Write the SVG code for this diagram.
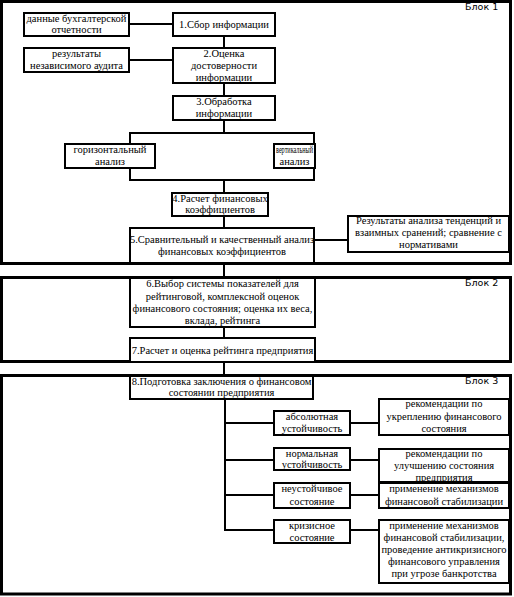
<svg xmlns="http://www.w3.org/2000/svg" width="514" height="597" viewBox="0 0 514 597">
<style>
.blk{fill:none;stroke:#000;stroke-width:3}
.box{fill:#fff;stroke:#000;stroke-width:2}
.ln{fill:none;stroke:#000;stroke-width:2}
.t{font-family:"Liberation Serif","Times New Roman",serif;font-size:10.5px;text-anchor:middle;fill:#000}
.lbl{font-family:"DejaVu Sans",sans-serif;font-size:9.5px;fill:#000}
</style>
<rect width="514" height="597" fill="#fff"/>
<g id="blocks">
<rect class="blk" x="1.5" y="1.5" width="509" height="262"/>
<rect class="blk" x="1.5" y="277.5" width="509" height="84"/>
<rect class="blk" x="1.5" y="375.5" width="509" height="218.5"/>
<text class="lbl" x="465" y="10">Блок 1</text>
<text class="lbl" x="465" y="286">Блок 2</text>
<text class="lbl" x="465" y="384">Блок 3</text>
</g>
<g id="connectors">
<line class="ln" x1="129" y1="24" x2="173" y2="24"/>
<line class="ln" x1="129" y1="60" x2="173" y2="60"/>
<line class="ln" x1="224" y1="36" x2="224" y2="48"/>
<line class="ln" x1="224" y1="83" x2="224" y2="96"/>
<line class="ln" x1="224" y1="120" x2="224" y2="133"/>
<rect class="ln" x="130" y="133" width="184" height="47"/>
<line class="ln" x1="224" y1="180" x2="224" y2="193"/>
<line class="ln" x1="224" y1="216" x2="224" y2="228"/>
<line class="ln" x1="314" y1="240" x2="348" y2="240"/>
<line class="ln" x1="224" y1="263" x2="224" y2="278"/>
<line class="ln" x1="224" y1="327" x2="224" y2="338"/>
<line class="ln" x1="224" y1="361" x2="224" y2="376"/>
<line class="ln" x1="225" y1="399" x2="225" y2="531"/>
<line class="ln" x1="225" y1="423" x2="274" y2="423"/>
<line class="ln" x1="225" y1="460" x2="274" y2="460"/>
<line class="ln" x1="225" y1="495" x2="274" y2="495"/>
<line class="ln" x1="224" y1="530" x2="274" y2="530"/>
<line class="ln" x1="350" y1="423" x2="379" y2="423"/>
<line class="ln" x1="350" y1="460" x2="379" y2="460"/>
<line class="ln" x1="350" y1="495" x2="379" y2="495"/>
<line class="ln" x1="350" y1="530" x2="379" y2="530"/>
</g>
<g id="n-data">
<rect class="box" x="24" y="13" width="105" height="23"/>
<text class="t" x="76.5" y="21.5">данные бухгалтерской</text>
<text class="t" x="76.5" y="33">отчетности</text>
</g>
<g id="n-audit">
<rect class="box" x="24" y="48" width="105" height="24"/>
<text class="t" x="76.5" y="57">результаты</text>
<text class="t" x="76.5" y="69">независимого аудита</text>
</g>
<g id="n1">
<rect class="box" x="173" y="13" width="102" height="23"/>
<text class="t" x="224" y="28">1.Сбор информации</text>
</g>
<g id="n2">
<rect class="box" x="173" y="48" width="102" height="35"/>
<text class="t" x="224" y="57">2.Оценка</text>
<text class="t" x="224" y="69">достоверности</text>
<text class="t" x="224" y="81">информации</text>
</g>
<g id="n3">
<rect class="box" x="173" y="96" width="102" height="24"/>
<text class="t" x="224" y="105">3.Обработка</text>
<text class="t" x="224" y="117">информации</text>
</g>
<g id="n-hor">
<rect class="box" x="65" y="144" width="90" height="24"/>
<text class="t" x="110" y="153">горизонтальный</text>
<text class="t" x="110" y="165">анализ</text>
</g>
<g id="n-ver">
<rect class="box" x="274" y="144" width="41" height="24"/>
<text class="t" x="294.5" y="153" textLength="37" lengthAdjust="spacingAndGlyphs">вертикальный</text>
<text class="t" x="294.5" y="165">анализ</text>
</g>
<g id="n4">
<rect class="box" x="172" y="193" width="96" height="23"/>
<text class="t" x="220" y="201.5">4.Расчет финансовых</text>
<text class="t" x="220" y="213">коэффициентов</text>
</g>
<g id="n5">
<rect class="box" x="130" y="228" width="184" height="35"/>
<text class="t" x="222" y="243">5.Сравнительный и качественный анализ</text>
<text class="t" x="222" y="255">финансовых коэффициентов</text>
</g>
<g id="n-res">
<rect class="box" x="348" y="216" width="161" height="36"/>
<text class="t" x="428.5" y="224">Результаты анализа тенденций и</text>
<text class="t" x="428.5" y="236">взаимных сранений; сравнение с</text>
<text class="t" x="428.5" y="248">нормативами</text>
</g>
<g id="n6">
<rect class="box" x="130" y="278" width="185" height="49"/>
<text class="t" x="222.5" y="287">6.Выбор системы показателей для</text>
<text class="t" x="222.5" y="299.5">рейтинговой, комплексной оценок</text>
<text class="t" x="222.5" y="312">финансового состояния; оценка их веса,</text>
<text class="t" x="222.5" y="324">вклада, рейтинга</text>
</g>
<g id="n7">
<rect class="box" x="130" y="338" width="185" height="24"/>
<text class="t" x="222.5" y="353.5">7.Расчет и оценка рейтинга предприятия</text>
</g>
<g id="n8">
<rect class="box" x="130" y="376" width="183" height="23"/>
<text class="t" x="221.5" y="384.5">8.Подготовка заключения о финансовом</text>
<text class="t" x="221.5" y="396">состоянии предприятия</text>
</g>
<g id="n-abs">
<rect class="box" x="274" y="411" width="76" height="24"/>
<text class="t" x="312" y="420">абсолютная</text>
<text class="t" x="312" y="432">устойчивость</text>
</g>
<g id="n-abs-r">
<rect class="box" x="379" y="399" width="130" height="36"/>
<text class="t" x="444" y="407">рекомендации по</text>
<text class="t" x="444" y="419.5">укреплению финансового</text>
<text class="t" x="444" y="431.5">состояния</text>
</g>
<g id="n-norm">
<rect class="box" x="274" y="448" width="76" height="22"/>
<text class="t" x="312" y="456.5">нормальная</text>
<text class="t" x="312" y="468">устойчивость</text>
</g>
<g id="n-norm-r">
<rect class="box" x="379" y="449" width="130" height="33"/>
<text class="t" x="444" y="457">рекомендации по</text>
<text class="t" x="444" y="469">улучшению состояния</text>
<text class="t" x="444" y="481">предприятия</text>
</g>
<g id="n-unst">
<rect class="box" x="274" y="483" width="76" height="25"/>
<text class="t" x="312" y="491.5">неустойчивое</text>
<text class="t" x="312" y="504.5">состояние</text>
</g>
<g id="n-unst-r">
<rect class="box" x="379" y="483" width="130" height="25"/>
<text class="t" x="444" y="491.5">применение механизмов</text>
<text class="t" x="444" y="504.5">финансовой стабилизации</text>
</g>
<g id="n-cris">
<rect class="box" x="274" y="520" width="76" height="23"/>
<text class="t" x="312" y="528.5">кризисное</text>
<text class="t" x="312" y="540.5">состояние</text>
</g>
<g id="n-cris-r">
<rect class="box" x="379" y="520" width="130" height="63"/>
<text class="t" x="444" y="528.5">применение механизмов</text>
<text class="t" x="444" y="540.5">финансовой стабилизации,</text>
<text class="t" x="444" y="552.5">проведение антикризисного</text>
<text class="t" x="444" y="564.5">финансового управления</text>
<text class="t" x="444" y="576.5">при угрозе банкротства</text>
</g>
</svg>
